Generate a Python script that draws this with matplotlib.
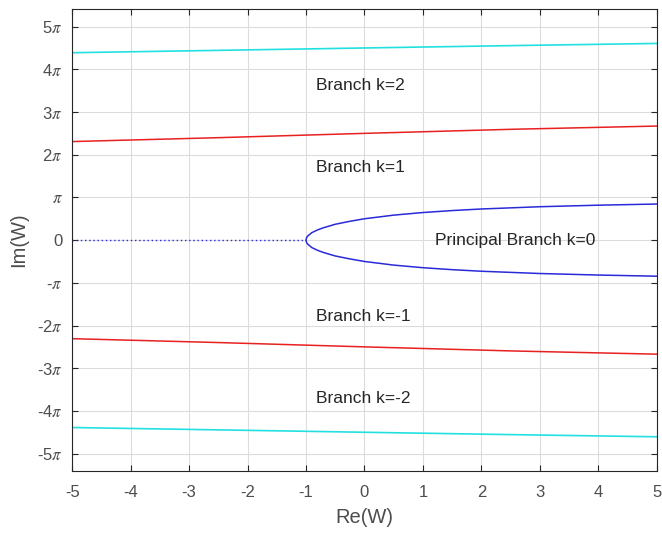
import numpy as np
import matplotlib.pyplot as plt

plt.rcParams["font.family"] = ["Liberation Sans", "DejaVu Sans"]
plt.rcParams["mathtext.fontset"] = "stix"
plt.rcParams["axes.unicode_minus"] = False

# values, imaginary parts in units of pi
x_line = [-5, -2.5, 0, 2.5, 5]
k1_upper = [2.308, 2.399, 2.5, 2.595, 2.671]
k2_upper = [4.389, 4.444, 4.5, 4.555, 4.606]

x_principal = [-1, -0.99, -0.97, -0.9, -0.8, -0.7, -0.5, -0.25, 0, 0.5, 1, 1.5, 2, 3, 4, 5]
principal_upper = [0, 0.055, 0.095, 0.175, 0.24, 0.29, 0.371, 0.44, 0.5, 0.585, 0.646,
                   0.692, 0.729, 0.782, 0.818, 0.845]

x_cut = [-5, -1]
y_cut = [0, 0]

labels = ["Branch k=2", "Branch k=1", "Branch k=-1", "Branch k=-2", "Principal Branch k=0"]
label_x = [-0.82, -0.82, -0.82, -0.82, 1.2]
label_y = [3.63, 1.71, -1.78, -3.72, 0.0]

yticks = list(range(-5, 6))
ytick_labels = ["-5$\\pi$", "-4$\\pi$", "-3$\\pi$", "-2$\\pi$", "-$\\pi$", "0",
                "$\\pi$", "2$\\pi$", "3$\\pi$", "4$\\pi$", "5$\\pi$"]

fig = plt.figure(figsize=(6.62, 5.33), dpi=100)
ax = fig.add_axes([0.109, 0.116, 0.883, 0.867])

pi = np.pi
xl = np.array(x_line)
xp = np.array(x_principal)
yp = np.array(principal_upper) * pi

ax.plot(xl, np.array(k2_upper) * pi, color="#22e0e0", lw=1.2)
ax.plot(xl, -np.array(k2_upper) * pi, color="#22e0e0", lw=1.2)
ax.plot(xl, np.array(k1_upper) * pi, color="#e82020", lw=1.1)
ax.plot(xl, -np.array(k1_upper) * pi, color="#e82020", lw=1.1)
ax.plot(np.concatenate([xp[::-1], xp[1:]]), np.concatenate([yp[::-1], -yp[1:]]),
        color="#2a2ad8", lw=1.1)
ax.plot(x_cut, y_cut, color="#2a2ad8", lw=1, linestyle=(0, (1, 2)))

for t, x, y in zip(labels, label_x, label_y):
    ax.text(x, y * pi, t, fontsize=12.5, color="#262626", va="center", ha="left")

ax.set_xlim(-5, 5)
ax.set_ylim(-17, 17)
ax.set_xticks(range(-5, 6))
ax.set_yticks([t * pi for t in yticks])
ax.set_yticklabels(ytick_labels)
ax.tick_params(direction="in", top=True, right=True, labelsize=12,
               labelcolor="#4d4d4d", color="#262626", length=4)
ax.tick_params(axis="x", pad=10)
ax.tick_params(axis="y", pad=7)
ax.grid(True, color="#dcdcdc", lw=0.8)
ax.set_axisbelow(True)
for s in ax.spines.values():
    s.set_color("#262626")
ax.set_xlabel("Re(W)", fontsize=14.5, color="#4d4d4d", labelpad=6)
ax.set_ylabel("Im(W)", fontsize=14.5, color="#4d4d4d", labelpad=6)

plt.savefig("out.png", dpi=100)
